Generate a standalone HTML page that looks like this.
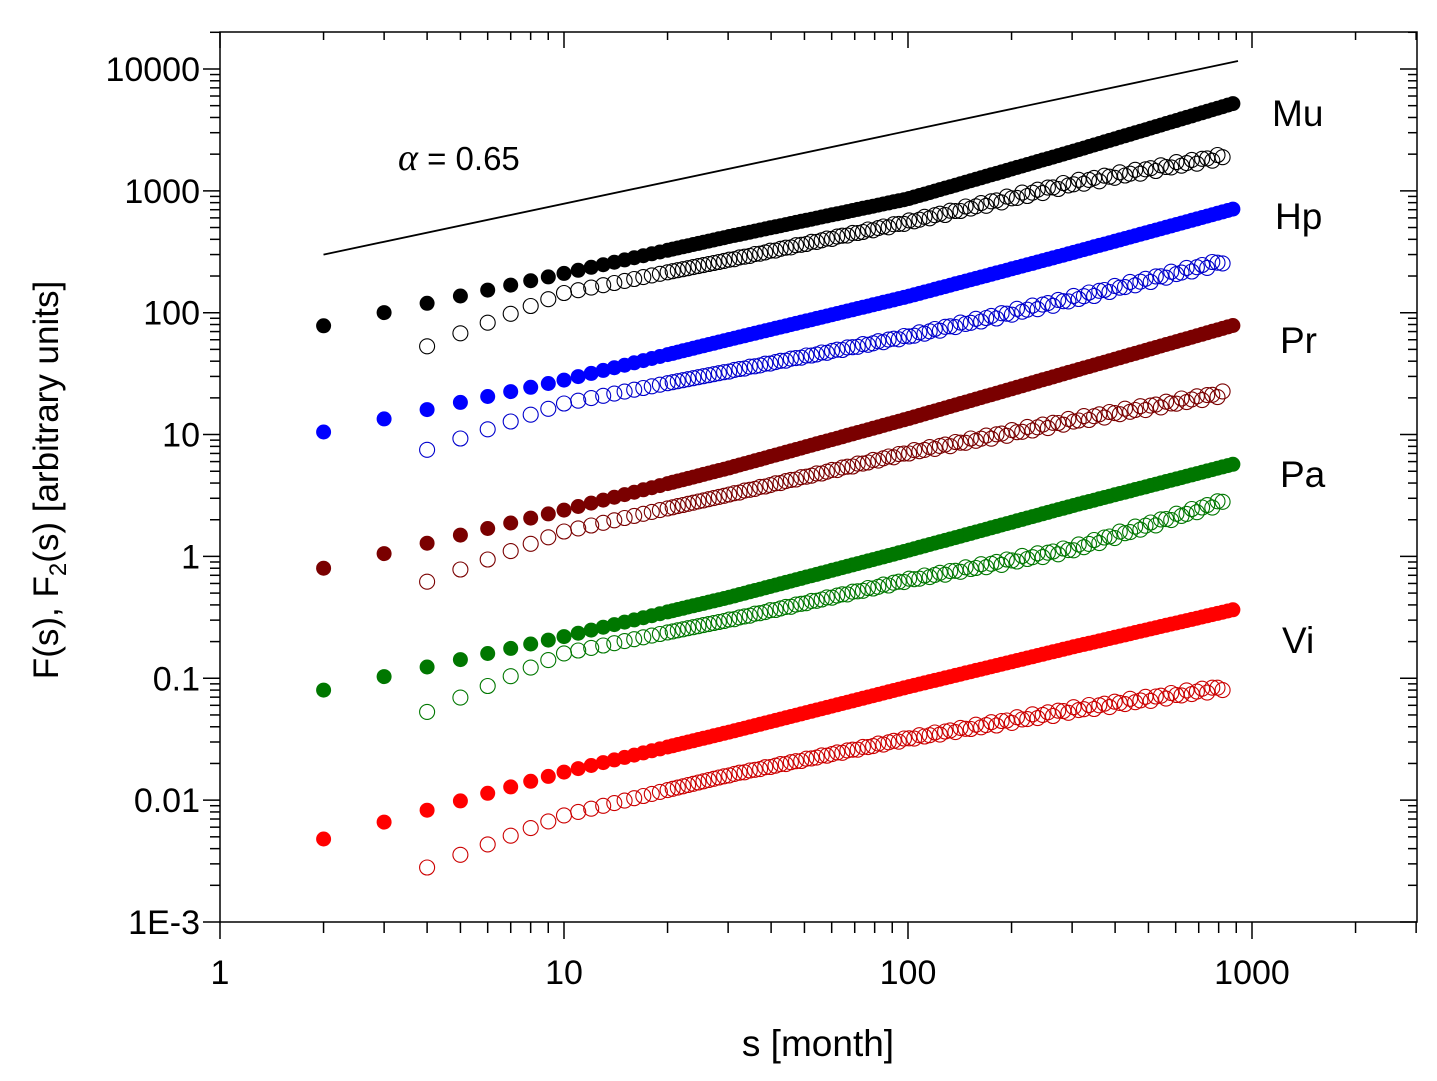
<!DOCTYPE html>
<html><head><meta charset="utf-8"><style>
html,body{margin:0;padding:0;background:#fff}
svg{display:block;font-family:"Liberation Sans",Arial,sans-serif}
</style></head><body>
<svg id="s" width="1437" height="1081" viewBox="0 0 1437 1081" xmlns="http://www.w3.org/2000/svg">
<rect width="1437" height="1081" fill="#fff"/>
<g id="ax" stroke="#000" stroke-width="1.5" fill="none"></g>
<g id="dat"></g>
<line x1="323.5" y1="254.6" x2="1238" y2="61" stroke="#000" stroke-width="1.8"/>
<text x="398" y="170" font-size="33"><tspan font-family="Liberation Serif,serif" font-style="italic" font-size="38">α</tspan> = 0.65</text>
<g font-size="37">
<text x="1272" y="126">Mu</text>
<text x="1275" y="229">Hp</text>
<text x="1280" y="353">Pr</text>
<text x="1280" y="487">Pa</text>
<text x="1282" y="653">Vi</text>
</g>
<g id="lab" font-size="34"></g>
<text x="818" y="1056" font-size="37" text-anchor="middle">s [month]</text>
<text transform="translate(58,480) rotate(-90)" font-size="35" text-anchor="middle">F(s), F<tspan font-size="24" dy="8">2</tspan><tspan dy="-8">(s) [arbitrary units]</tspan></text>
</svg>
<script>
const L=220,R=1417,T=32,B=922,DX=344,DY=121.86;
const X=s=>L+Math.log10(s)*DX, Y=v=>B-(Math.log10(v)+3)*DY;
let ax='';
ax+=`<rect x="${L}" y="${T}" width="${R-L}" height="${B-T}"/>`;
for(let d=0;d<4;d++)for(let k=1;k<10;k++){const s=k*Math.pow(10,d);const x=X(s);if(x>R)break;
 const maj=k==1;ax+=`<line x1="${x}" y1="${B}" x2="${x}" y2="${B+(maj?17:11)}"/><line x1="${x}" y1="${T}" x2="${x}" y2="${T+(maj?16:8)}"/>`;}
let lab='';
const yl=["1E-3","0.01","0.1","1","10","100","1000","10000"];
for(let d=-3;d<=4;d++)for(let k=1;k<10;k++){const v=k*Math.pow(10,d);const y=Y(v);if(y<T)break;
 const maj=k==1;ax+=`<line x1="${L-(maj?17:10)}" y1="${y}" x2="${L}" y2="${y}"/><line x1="${R-(maj?17:9)}" y1="${y}" x2="${R}" y2="${y}"/>`;
 if(maj)lab+=`<text x="${L-20}" y="${y+12}" text-anchor="end">${yl[d+3]}</text>`;}
[1,10,100,1000].forEach((s,i)=>lab+=`<text x="${X(s)}" y="${B+62}" text-anchor="middle">${s}</text>`);
document.getElementById('ax').innerHTML=ax;document.getElementById('lab').innerHTML=lab;
function interp(a,s){const ls=Math.log10(s);for(let i=0;i<a.length-1;i++){const x0=Math.log10(a[i][0]),x1=Math.log10(a[i+1][0]);
 if(ls<=x1||i==a.length-2){const t=(ls-x0)/(x1-x0);return Math.pow(10,Math.log10(a[i][1])+t*(Math.log10(a[i+1][1])-Math.log10(a[i][1])));}}}
function svals(start,end){const r=[];let s=start;while(s<=end){r.push(s);s=s<20?s+1:s*1.035;}return r;}
const ser=[
 ['#000',1,[[2,78],[10,210],[30,420],[100,860],[300,2100],[900,5300]]],
 ['#000',0,[[4,53],[10,145],[30,270],[100,555],[300,1150],[850,1950]]],
 ['#0000ff',1,[[2,10.5],[10,28],[30,60],[100,136],[300,310],[900,720]]],
 ['#0000cc',0,[[4,7.5],[10,18],[30,33],[100,64],[300,130],[850,270]]],
 ['#7a0000',1,[[2,0.8],[10,2.4],[30,5.3],[100,13.5],[300,33],[900,80]]],
 ['#7a0000',0,[[4,0.62],[10,1.6],[30,3.2],[100,7.1],[300,13],[850,22]]],
 ['#007700',1,[[2,0.08],[10,0.22],[30,0.46],[100,1.12],[300,2.6],[900,5.8]]],
 ['#007700',0,[[4,0.053],[10,0.16],[30,0.3],[100,0.64],[300,1.15],[850,2.9]]],
 ['#ff0000',1,[[2,0.0048],[10,0.017],[30,0.036],[100,0.085],[300,0.18],[900,0.37]]],
 ['#cc0000',0,[[4,0.0028],[10,0.0075],[30,0.016],[100,0.032],[300,0.055],[850,0.085]]]
];
let d='';
ser.forEach(([c,f,a],j)=>{const ss=svals(f?2:4,f?900:850);
 ss.forEach((s,i)=>{let v=interp(a,s);if(!f&&s>30)v*=1+0.05*Math.sin(i*2.3+j)*Math.min(1,s/200);
  d+=f?`<circle cx="${X(s).toFixed(1)}" cy="${Y(v).toFixed(1)}" r="7.5" fill="${c}"/>`
      :`<circle cx="${X(s).toFixed(1)}" cy="${Y(v).toFixed(1)}" r="7.5" fill="none" stroke="${c}" stroke-width="1.1"/>`;});});
document.getElementById('dat').innerHTML=d;
</script>
</body></html>
